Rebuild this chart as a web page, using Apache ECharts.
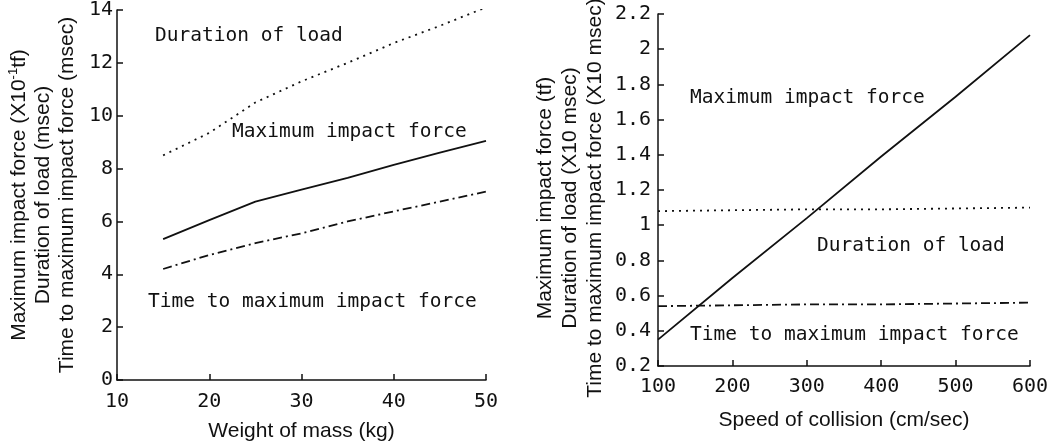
<!DOCTYPE html>
<html>
<head>
<meta charset="utf-8">
<script src="https://cdn.jsdelivr.net/npm/echarts@6/dist/echarts.min.js"></script>
<style>
  html, body { margin: 0; padding: 0; background: #fff; }
  #chart { width: 1055px; height: 442px; }
</style>
</head>
<body>
<div id="chart"></div>
<script>
// left panel: weight of mass (kg)
const massKg = [15, 20, 25, 30, 35, 40, 45, 50];
const loadDurationByMass = [8.5, 9.35, 10.5, 11.3, 12.0, 12.75, 13.4, 14.1];
const maxForceByMass = [5.33, 6.05, 6.75, 7.2, 7.65, 8.14, 8.6, 9.05];
const timeToMaxByMass = [4.2, 4.73, 5.18, 5.55, 6.0, 6.38, 6.75, 7.13];

// right panel: speed of collision (cm/sec)
const speedCms = [100, 200, 300, 400, 500, 600];
const maxForceBySpeed = [0.35, 0.70, 1.04, 1.39, 1.73, 2.08];
const loadDurationBySpeed = [1.08, 1.085, 1.09, 1.09, 1.095, 1.10];
const timeToMaxBySpeed = [0.54, 0.545, 0.55, 0.55, 0.555, 0.56];

const mono = "DejaVu Sans Mono";
const sans = "Liberation Sans";
const ink = "#111";

const zip = (xs, ys) => xs.map((x, i) => [x, ys[i]]);

const chart = echarts.init(document.getElementById("chart"));

const axisCommon = {
  axisLine: { lineStyle: { color: ink, width: 1.5 } },
  axisTick: { inside: true, length: 6, lineStyle: { color: ink, width: 1.5 } },
  splitLine: { show: false },
  axisLabel: { color: ink, fontFamily: mono, fontSize: 20 }
};

function line(xi, data, type) {
  return {
    type: "line",
    xAxisIndex: xi,
    yAxisIndex: xi,
    data: data,
    symbol: "none",
    lineStyle: { color: ink, width: 1.8, type: type },
    silent: true,
    animation: false
  };
}

function note(text, x, y) {
  return {
    type: "text",
    x: x,
    y: y,
    style: {
      text: text,
      fill: ink,
      font: "19.5px '" + mono + "'",
      verticalAlign: "middle"
    }
  };
}

chart.setOption({
  animation: false,
  grid: [
    { left: 117, right: 569, top: 10, bottom: 62, outerBoundsMode: "none" },
    { left: 658, right: 25, top: 14, bottom: 76, outerBoundsMode: "none" }
  ],
  xAxis: [
    Object.assign({}, axisCommon, {
      gridIndex: 0, type: "value", min: 10, max: 50, interval: 10,
      name: "Weight of mass (kg)", nameLocation: "middle", nameGap: 41,
      nameTextStyle: { color: ink, fontFamily: sans, fontSize: 21 },
      axisLabel: Object.assign({}, axisCommon.axisLabel, { margin: 12 })
    }),
    Object.assign({}, axisCommon, {
      gridIndex: 1, type: "value", min: 100, max: 600, interval: 100,
      name: "Speed of collision (cm/sec)", nameLocation: "middle", nameGap: 44,
      nameTextStyle: { color: ink, fontFamily: sans, fontSize: 21 },
      axisLabel: Object.assign({}, axisCommon.axisLabel, { margin: 11 })
    })
  ],
  yAxis: [
    Object.assign({}, axisCommon, {
      gridIndex: 0, type: "value", min: 0, max: 14, interval: 2,
      name: "Maximum impact force (X10{sup|-1}tf)\nDuration of load (msec)\nTime to maximum impact force (msec)",
      nameLocation: "middle", nameRotate: 90, nameGap: 38,
      nameTextStyle: {
        color: ink, fontFamily: sans, fontSize: 21, lineHeight: 24,
        rich: { sup: { fontFamily: sans, fontSize: 13, verticalAlign: "top", lineHeight: 24, padding: [0, 0, 9, 0] } }
      },
      axisLabel: Object.assign({}, axisCommon.axisLabel, { margin: 4 })
    }),
    Object.assign({}, axisCommon, {
      gridIndex: 1, type: "value", min: 0.2, max: 2.2, interval: 0.2,
      name: "Maximum impact force (tf)\nDuration of load (X10 msec)\nTime to maximum impact force (X10 msec)",
      nameLocation: "middle", nameRotate: 90, nameGap: 50,
      nameTextStyle: { color: ink, fontFamily: sans, fontSize: 21, lineHeight: 25, padding: [0, 16, 0, 0] },
      axisLabel: Object.assign({}, axisCommon.axisLabel, {
        margin: 7,
        formatter: v => String(+v.toFixed(1))
      })
    })
  ],
  series: [
    line(0, zip(massKg, loadDurationByMass), [2, 5]),
    line(0, zip(massKg, maxForceByMass), "solid"),
    line(0, zip(massKg, timeToMaxByMass), [9, 4, 2, 4]),
    line(1, zip(speedCms, maxForceBySpeed), "solid"),
    line(1, zip(speedCms, loadDurationBySpeed), [2, 5]),
    line(1, zip(speedCms, timeToMaxBySpeed), [9, 4, 2, 4])
  ],
  graphic: [
    note("Duration of load", 155, 36),
    note("Maximum impact force", 232, 132),
    note("Time to maximum impact force", 148, 302),
    note("Maximum impact force", 690, 98),
    note("Duration of load", 817, 246),
    note("Time to maximum impact force", 690, 335)
  ]
});
</script>
</body>
</html>
